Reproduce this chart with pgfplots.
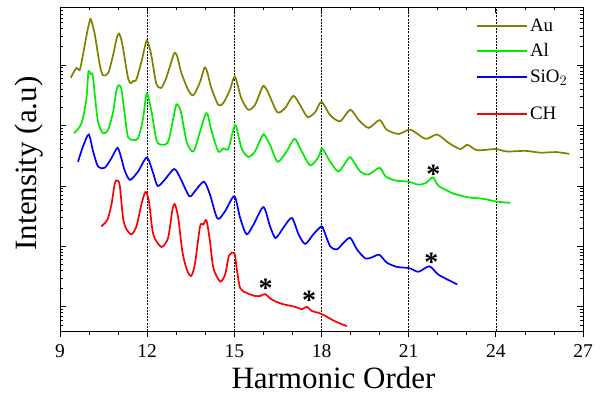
\documentclass[border=0pt]{standalone}
\usepackage{fontspec}
\setmainfont{Liberation Serif}
\usepackage{pgfplots}
\usetikzlibrary{calc}
\pgfplotsset{compat=1.18}
\definecolor{colAu}{RGB}{128,128,0}
\definecolor{colAl}{RGB}{0,235,0}
\definecolor{colSi}{RGB}{0,0,255}
\definecolor{colCH}{RGB}{255,0,0}
\pgfplotsset{
  overlay legend/.style={
    scale only axis, width=523pt, height=324pt,
    xmin=9, xmax=27, ymin=-0.40, ymax=4.96, hide axis,
    legend style={at={(axis description cs:0.7954,#1)}, anchor=west, draw=none, fill=none,
      inner sep=0pt, font=\fontsize{19}{19}\selectfont},
    legend cell align=left,
    legend image code/.code={\draw[##1] (0pt,0pt) -- (50pt,0pt);},
  }
}
\begin{document}
\begin{tikzpicture}
\begin{axis}[
  scale only axis, width=523pt, height=324pt,
  xmin=9, xmax=27, ymin=-0.40, ymax=4.96,
  xtick={9,12,15,18,21,24,27}, minor x tick num=2,
  xtick pos=right, xticklabel pos=left,
  ytick={0,1,2,3,4}, yticklabels={},
  minor ytick={-0.301,-0.222,-0.155,-0.097,-0.046,
    0.301,0.477,0.602,0.699,0.778,0.845,0.903,0.954,
    1.301,1.477,1.602,1.699,1.778,1.845,1.903,1.954,
    2.301,2.477,2.602,2.699,2.778,2.845,2.903,2.954,
    3.301,3.477,3.602,3.699,3.778,3.845,3.903,3.954,
    4.301,4.477,4.602,4.699,4.778,4.845,4.903,4.954},
  tick align=inside,
  major tick length=6pt, minor tick length=3.5pt,
  every tick/.style={black, line width=0.7pt},
  axis line style={line width=0.9pt},
  /pgf/number format/assume math mode=true,
  tick label style={font=\fontsize{19.5}{20}\selectfont},
  xticklabel style={yshift=-10pt},
  extra x ticks={12,15,18,21,24}, extra x tick labels={},
  extra x tick style={grid=major},
  major grid style={black, dash pattern=on 2pt off 1.2pt, line width=0.6pt},
  xlabel={Harmonic Order},
  ylabel={Intensity (a.u)},
  xlabel style={font=\fontsize{31}{31}\selectfont, inner sep=0pt, at={(axis description cs:0.523,0)}, anchor=base, yshift=-57pt},
  ylabel style={font=\fontsize{31}{31}\selectfont, inner sep=0pt, at={(axis description cs:-0.044,0.517)}, anchor=base},
]
\coordinate (SW) at (rel axis cs:0,0);
\coordinate (NE) at (rel axis cs:1,1);
\addplot[color=colAu, line width=1.7pt, smooth, tension=0.45] coordinates {
(9.37,3.79)(9.56,3.95)(9.68,3.92)(9.79,4.17)(9.95,4.58)(10.03,4.74)(10.06,4.76)(10.12,4.66)(10.2,4.50)(10.37,4.0)(10.48,3.83)(10.66,3.87)(10.83,4.17)(10.96,4.46)(11.03,4.52)(11.1,4.44)(11.17,4.28)(11.34,3.79)(11.44,3.70)(11.52,3.74)(11.62,3.75)(11.8,4.05)(11.95,4.36)(12.01,4.40)(12.14,4.17)(12.31,3.70)(12.48,3.62)(12.66,3.79)(12.9,4.16)(12.97,4.20)(13.05,4.12)(13.17,3.88)(13.41,3.59)(13.59,3.50)(13.82,3.72)(13.95,3.93)(14.0,3.96)(14.07,3.88)(14.21,3.62)(14.45,3.34)(14.62,3.37)(14.85,3.59)(15.02,3.81)(15.24,3.45)(15.48,3.26)(15.71,3.34)(15.95,3.62)(16.03,3.65)(16.17,3.54)(16.48,3.22)(16.75,3.29)(17.03,3.49)(17.26,3.34)(17.52,3.14)(17.78,3.22)(18.0,3.39)(18.3,3.17)(18.64,3.07)(18.99,3.26)(19.28,3.09)(19.62,2.96)(20.0,3.09)(20.24,2.93)(20.66,2.86)(21.06,2.93)(21.58,2.78)(21.98,2.85)(22.38,2.71)(22.78,2.61)(23.02,2.68)(23.36,2.59)(23.99,2.61)(24.38,2.57)(25.02,2.58)(25.55,2.55)(26.07,2.56)(26.53,2.53)
};
\addplot[color=colAl, line width=1.7pt, smooth, tension=0.45] coordinates {
(9.48,2.87)(9.68,2.98)(9.79,3.12)(9.91,3.45)(9.97,3.85)(10.0,3.90)(10.06,3.85)(10.11,3.86)(10.16,3.70)(10.2,3.50)(10.31,3.06)(10.48,2.87)(10.66,2.93)(10.83,3.23)(10.93,3.55)(11.0,3.66)(11.11,3.61)(11.23,3.17)(11.34,2.81)(11.52,2.76)(11.69,2.79)(11.86,3.12)(11.95,3.45)(12.01,3.52)(12.15,3.23)(12.32,2.76)(12.49,2.68)(12.72,2.73)(12.9,3.12)(13.01,3.35)(13.16,3.23)(13.36,2.73)(13.59,2.57)(13.82,2.90)(13.98,3.15)(14.07,3.20)(14.22,2.90)(14.45,2.57)(14.62,2.62)(14.79,2.61)(14.95,2.90)(15.05,3.0)(15.25,2.62)(15.48,2.48)(15.71,2.57)(15.95,2.82)(16.03,2.85)(16.23,2.68)(16.49,2.40)(16.8,2.57)(17.07,2.78)(17.32,2.57)(17.61,2.34)(17.9,2.48)(18.02,2.62)(18.3,2.40)(18.59,2.24)(18.9,2.44)(19.01,2.47)(19.33,2.24)(19.62,2.19)(20.0,2.30)(20.2,2.16)(20.54,2.09)(21.0,2.07)(21.34,2.02)(21.6,2.05)(21.83,2.14)(22.03,2.0)(22.38,1.91)(22.55,1.87)(23.07,1.81)(23.53,1.79)(24.04,1.74)(24.5,1.72)
};
\addplot[color=colSi, line width=1.7pt, smooth, tension=0.45] coordinates {
(9.62,2.40)(9.79,2.65)(9.99,2.85)(10.14,2.57)(10.31,2.32)(10.54,2.30)(10.77,2.46)(10.98,2.63)(11.11,2.46)(11.23,2.25)(11.41,2.10)(11.69,2.24)(11.99,2.47)(12.2,2.22)(12.36,2.0)(12.6,2.10)(12.93,2.28)(13.15,2.12)(13.45,1.83)(13.64,1.91)(13.95,2.07)(14.16,1.86)(14.42,1.46)(14.68,1.58)(15.0,1.83)(15.2,1.47)(15.42,1.20)(15.66,1.36)(16.0,1.65)(16.23,1.33)(16.42,1.14)(16.69,1.31)(16.98,1.47)(17.21,1.20)(17.44,1.04)(17.72,1.20)(17.99,1.33)(18.07,1.28)(18.3,1.0)(18.53,0.95)(18.76,1.06)(18.99,1.14)(19.22,0.95)(19.51,0.80)(19.74,0.82)(19.99,0.86)(20.25,0.73)(20.6,0.66)(21.02,0.64)(21.34,0.58)(21.71,0.67)(22.03,0.53)(22.55,0.40)(22.67,0.37)
};
\addplot[color=colCH, line width=1.7pt, smooth, tension=0.45] coordinates {
(10.42,1.33)(10.63,1.44)(10.77,1.69)(10.89,2.05)(10.98,2.09)(11.06,2.0)(11.17,1.47)(11.29,1.28)(11.46,1.20)(11.63,1.33)(11.8,1.69)(11.94,1.90)(12.06,1.75)(12.21,1.20)(12.49,0.99)(12.72,1.14)(12.86,1.58)(12.95,1.70)(13.07,1.47)(13.21,0.92)(13.36,0.62)(13.51,0.51)(13.64,0.70)(13.82,1.33)(13.93,1.36)(14.04,1.43)(14.16,1.09)(14.28,0.64)(14.51,0.42)(14.68,0.53)(14.82,0.85)(15.0,0.89)(15.08,0.64)(15.2,0.31)(15.42,0.23)(15.71,0.18)(15.9,0.18)(16.06,0.21)(16.29,0.12)(16.63,0.05)(17.09,0.0)(17.32,-0.04)(17.49,0.0)(17.67,-0.07)(17.9,-0.10)(18.13,-0.15)(18.47,-0.24)(18.87,-0.32)
};
\node[anchor=base, font=\fontsize{28}{28}\selectfont\bfseries, inner sep=0pt] at (axis cs:16.08,0.15) {*};
\node[anchor=base, font=\fontsize{28}{28}\selectfont\bfseries, inner sep=0pt] at (axis cs:17.57,-0.05) {*};
\node[anchor=base, font=\fontsize{28}{28}\selectfont\bfseries, inner sep=0pt] at (axis cs:21.78,0.58) {*};
\node[anchor=base, font=\fontsize{28}{28}\selectfont\bfseries, inner sep=0pt] at (axis cs:21.85,2.04) {*};
\end{axis}
\begin{axis}[
  scale only axis, width=523pt, height=324pt,
  xmin=9, xmax=27, ymin=-0.40, ymax=4.96,
  axis x line*=bottom, axis y line=none,
  xtick={9,12,15,18,21,24,27}, minor x tick num=2, xticklabels={},
  tick align=outside,
  major tick length=6pt, minor tick length=3.5pt,
  every tick/.style={black, line width=0.7pt},
  axis line style={line width=0.9pt},
]
\end{axis}
\begin{axis}[overlay legend=0.9423]
\addlegendimage{draw=colAu, line width=1.8pt}
\addlegendentry{Au}
\end{axis}
\begin{axis}[overlay legend=0.8642]
\addlegendimage{draw=colAl, line width=1.8pt}
\addlegendentry{Al}
\end{axis}
\begin{axis}[overlay legend=0.7849]
\addlegendimage{draw=colSi, line width=1.8pt}
\addlegendentry{SiO$_2$}
\end{axis}
\begin{axis}[overlay legend=0.6688]
\addlegendimage{draw=colCH, line width=1.8pt}
\addlegendentry{CH}
\end{axis}
\pgfresetboundingbox
\path[use as bounding box] ($(SW)+(-60pt,-63pt)$) rectangle ($(NE)+(24pt,7pt)$);
\end{tikzpicture}
\end{document}
